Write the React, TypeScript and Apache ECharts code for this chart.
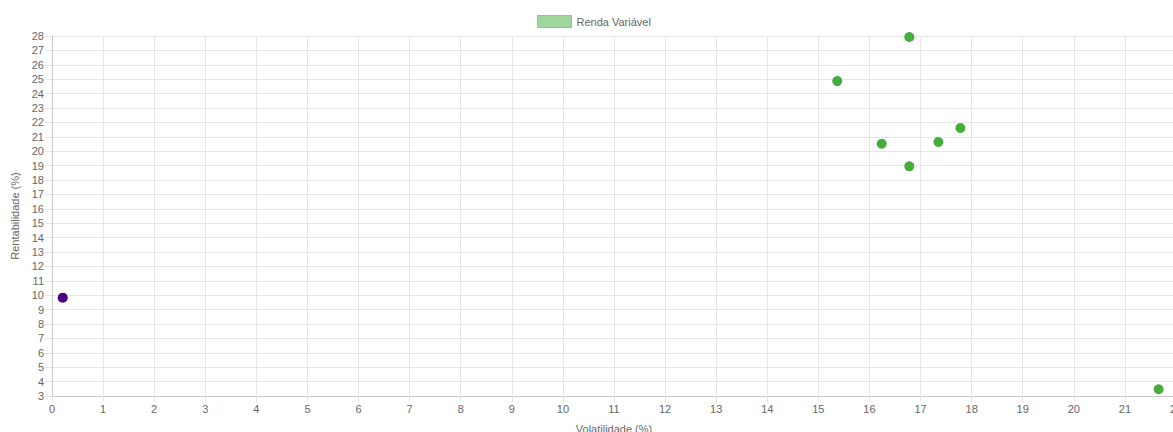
import React, { useEffect, useRef } from "react";
import * as echarts from "echarts";

const legendLabel = "Renda Variável";
const otherLabel = "Renda Fixa";
const xAxisTitle = "Volatilidade (%)";
const yAxisTitle = "Rentabilidade (%)";

// [volatility, return]
const rendaVariavel: [number, number][] = [
  [15.37, 24.87],
  [16.78, 27.93],
  [16.24, 20.52],
  [16.78, 18.95],
  [17.35, 20.64],
  [17.78, 21.61],
  [21.66, 3.47],
];
const outros: [number, number][] = [[0.21, 9.83]];

const xMin = 0;
const xMax = 22;
const yMin = 3;
const yMax = 28;

export default function App() {
  const ref = useRef<HTMLDivElement>(null);
  useEffect(() => {
    if (!ref.current) return;
    const chart = echarts.init(ref.current, undefined, { renderer: "svg" });
    const font = "Liberation Sans, Arial, sans-serif";
    chart.setOption({
      animation: false,
      textStyle: { fontFamily: font },
      legend: {
        left: 537,
        top: 15,
        itemWidth: 34,
        itemHeight: 12,
        itemGap: 10,
        icon: "rect",
        padding: 0,
        textStyle: { color: "#666", fontSize: 11, fontFamily: font },
        data: [
          {
            name: legendLabel,
            itemStyle: { color: "#9fd69b", borderColor: "#86cc80", borderWidth: 1 },
          },
        ],
      },
      grid: {
        left: 52,
        top: 36,
        right: 4,
        bottom: 36,
        containLabel: false,
        outerBoundsMode: "none",
      },
      xAxis: {
        type: "value",
        min: xMin,
        max: xMax,
        interval: 1,
        name: xAxisTitle,
        nameLocation: "middle",
        nameGap: 27,
        nameTextStyle: { color: "#666", fontSize: 11, fontFamily: font },
        axisLine: { show: true, onZero: false, lineStyle: { color: "#c8c8c8" } },
        axisTick: { show: true, length: 6, lineStyle: { color: "#e6e6e6" } },
        axisLabel: { color: "#666", fontSize: 11, margin: 7, fontFamily: font },
        splitLine: { show: true, lineStyle: { color: "#e6e6e6" } },
      },
      yAxis: {
        type: "value",
        min: yMin,
        max: yMax,
        interval: 1,
        name: yAxisTitle,
        nameLocation: "middle",
        nameGap: 31,
        nameRotate: 90,
        nameTextStyle: { color: "#666", fontSize: 11, fontFamily: font },
        axisLine: { show: true, onZero: false, lineStyle: { color: "#c8c8c8" } },
        axisTick: { show: true, length: 7, lineStyle: { color: "#e6e6e6" } },
        axisLabel: { color: "#666", fontSize: 11, margin: 8, fontFamily: font },
        splitLine: { show: true, lineStyle: { color: "#e6e6e6" } },
      },
      series: [
        {
          name: legendLabel,
          type: "scatter",
          data: rendaVariavel,
          symbolSize: 10,
          itemStyle: { color: "#46ad3c", opacity: 1 },
        },
        {
          name: otherLabel,
          type: "scatter",
          data: outros,
          symbolSize: 10,
          itemStyle: { color: "#4b0082", opacity: 1 },
        },
      ],
    });
    return () => chart.dispose();
  }, []);
  return (
    <div
      ref={ref}
      style={{ position: "fixed", left: 0, top: 0, width: 1180, height: 432, background: "#fff" }}
    />
  );
}
